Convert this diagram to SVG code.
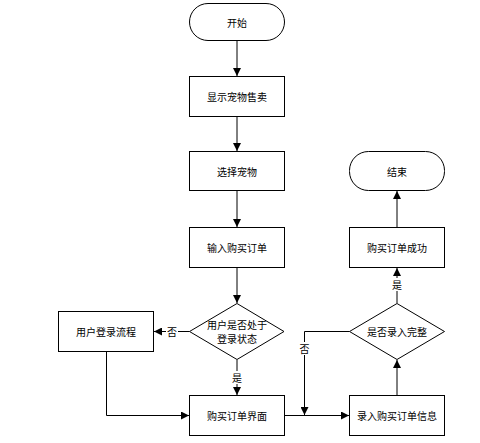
<svg xmlns="http://www.w3.org/2000/svg" width="480" height="443" viewBox="0 0 480 443">
<defs>
<marker id="arr" viewBox="0 0 10 10" refX="10" refY="5" markerWidth="8" markerHeight="8" markerUnits="userSpaceOnUse" orient="auto">
<path d="M0,0 L10,5 L0,10 z" fill="#000"/>
</marker>
<style>
.n{fill:#fff;stroke:#000;stroke-width:1}
.t{font-family:"Noto Sans CJK SC","Liberation Sans",sans-serif;font-size:10px;fill:#000;text-anchor:middle;dominant-baseline:central}
.c{fill:none;stroke:#000;stroke-width:1;marker-end:url(#arr)}
.bg{fill:#fff}
</style>
</defs>
<rect width="480" height="443" fill="#fff"/>
<g id="start"><rect class="n" x="189.5" y="3.5" width="95" height="37" rx="18.5"/><text class="t" x="237" y="22">开始</text></g>
<g id="show"><rect class="n" x="189.5" y="76.5" width="95" height="40"/><text class="t" x="237" y="96.5">显示宠物售卖</text></g>
<g id="select"><rect class="n" x="189.5" y="151.5" width="95" height="39"/><text class="t" x="237" y="171">选择宠物</text></g>
<g id="input"><rect class="n" x="189.5" y="227.5" width="95" height="40"/><text class="t" x="237" y="247.5">输入购买订单</text></g>
<g id="check"><polygon class="n" points="237,303.5 284,331.5 237,359.5 189.5,331.5"/><text class="t" x="237" y="324">用户是否处于</text><text class="t" x="237" y="338">登录状态</text></g>
<g id="login"><rect class="n" x="58.5" y="311.5" width="95" height="40"/><text class="t" x="106" y="331.5">用户登录流程</text></g>
<g id="orderui"><rect class="n" x="189.5" y="395.5" width="95" height="40"/><text class="t" x="237" y="415.5">购买订单界面</text></g>
<g id="enter"><rect class="n" x="349.5" y="395.5" width="95" height="40"/><text class="t" x="397" y="415.5">录入购买订单信息</text></g>
<g id="complete"><polygon class="n" points="397,303.5 444.5,331.5 397,359.5 349.5,331.5"/><text class="t" x="397" y="331.5">是否录入完整</text></g>
<g id="success"><rect class="n" x="349.5" y="227.5" width="95" height="40"/><text class="t" x="397" y="247.5">购买订单成功</text></g>
<g id="end"><rect class="n" x="349.5" y="151.5" width="95" height="39" rx="19"/><text class="t" x="397" y="171">结束</text></g>
<g id="connectors">
<path class="c" d="M237,41 V76"/>
<path class="c" d="M237,117 V151"/>
<path class="c" d="M237,191 V227"/>
<path class="c" d="M237,268 V303"/>
<path class="c" d="M189.5,331.5 H154"/>
<rect class="bg" x="166" y="325" width="12" height="13"/>
<text class="t" x="172" y="331">否</text>
<path class="c" d="M237,360 V395"/>
<rect class="bg" x="231" y="371" width="12" height="13"/>
<text class="t" x="237" y="377">是</text>
<path class="c" d="M106.5,352 V415.5 H189"/>
<path class="c" d="M285,415.5 H349"/>
<path class="c" d="M349.5,331.5 H304.5 V415"/>
<rect class="bg" x="298" y="342" width="13" height="13"/>
<text class="t" x="304.5" y="348">否</text>
<path class="c" d="M397,395 V360"/>
<path class="c" d="M397,303 V268"/>
<rect class="bg" x="391" y="278" width="12" height="13"/>
<text class="t" x="397" y="284">是</text>
<path class="c" d="M397,227 V191"/>
</g>
</svg>
